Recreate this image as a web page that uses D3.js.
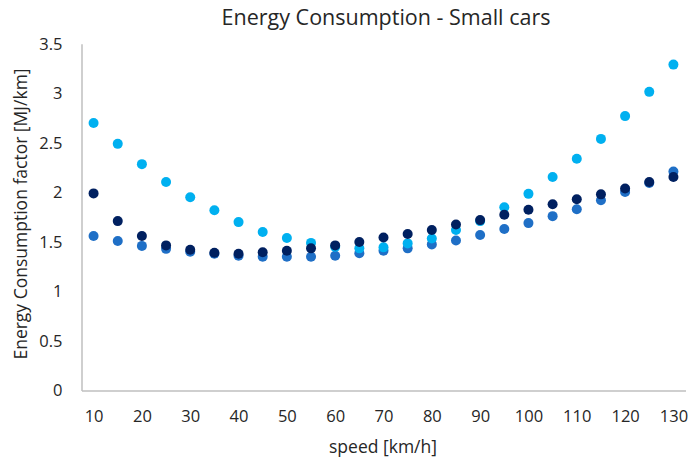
<!DOCTYPE html>
<html>
<head>
<meta charset="utf-8">
<script src="https://cdn.jsdelivr.net/npm/d3@7/dist/d3.min.js"></script>
<style>
  html, body { margin: 0; padding: 0; background: #ffffff; }
  svg text { font-family: "Open Sans", "Noto Sans", sans-serif; fill: #262626; }
</style>
</head>
<body>
<svg id="chart" width="690" height="459"></svg>
<script>
// Speeds (km/h) shared by all three series
const speeds = [10, 15, 20, 25, 30, 35, 40, 45, 50, 55, 60, 65, 70,
                75, 80, 85, 90, 95, 100, 105, 110, 115, 120, 125, 130];

// Energy consumption factor (MJ/km) per series
const seriesMid = [1.56, 1.51, 1.46, 1.43, 1.40, 1.38, 1.36, 1.35, 1.35, 1.35, 1.36, 1.385, 1.41,
                   1.435, 1.475, 1.515, 1.57, 1.63, 1.69, 1.76, 1.83, 1.92, 2.005, 2.095, 2.21];
const seriesCyan = [2.70, 2.49, 2.285, 2.105, 1.95, 1.82, 1.70, 1.60, 1.54, 1.49, 1.45, 1.435, 1.445,
                    1.485, 1.535, 1.62, 1.71, 1.85, 1.985, 2.155, 2.34, 2.54, 2.77, 3.015, 3.29];
const seriesNavy = [1.99, 1.71, 1.56, 1.465, 1.42, 1.39, 1.38, 1.395, 1.41, 1.435, 1.465, 1.50, 1.545,
                    1.58, 1.62, 1.675, 1.72, 1.775, 1.825, 1.88, 1.93, 1.98, 2.04, 2.105, 2.155];

const seriesColors = ["#1f6fc6", "#00b0f0", "#002060"];

const xTicks = [10, 20, 30, 40, 50, 60, 70, 80, 90, 100, 110, 120, 130];
const yTicks = [0, 0.5, 1, 1.5, 2, 2.5, 3, 3.5];

const svg = d3.select("#chart");

const x = d3.scaleLinear().domain([7.5, 132.5]).range([81.5, 685.5]);
const y = d3.scaleLinear().domain([0, 3.5]).range([390.5, 43.8]);

// Title
svg.append("text")
  .attr("x", 386).attr("y", 25)
  .attr("text-anchor", "middle")
  .style("font-size", "21.5px")
  .text("Energy Consumption - Small cars");

// Y axis: line plus labels, no tick marks
const yAxis = svg.append("g")
  .attr("transform", `translate(${x.range()[0]},0)`)
  .call(d3.axisLeft(y).tickValues(yTicks).tickSize(0).tickPadding(19).tickFormat(d3.format("")));
yAxis.select(".domain").attr("stroke", "#bfbfbf").attr("stroke-width", 1.5);
yAxis.selectAll("text").style("font-size", "16.5px").attr("fill", "#262626");

// X axis
const xAxis = svg.append("g")
  .attr("transform", `translate(0,${y(0)})`)
  .call(d3.axisBottom(x).tickValues(xTicks).tickSize(0).tickPadding(20).tickFormat(d3.format("")));
xAxis.select(".domain").attr("stroke", "#bfbfbf").attr("stroke-width", 1.5);
xAxis.selectAll("text").style("font-size", "16.5px").attr("fill", "#262626");

// Axis titles
svg.append("text")
  .attr("x", 383).attr("y", 453)
  .attr("text-anchor", "middle")
  .style("font-size", "17.5px")
  .text("speed [km/h]");

svg.append("text")
  .attr("transform", "translate(27,214) rotate(-90)")
  .attr("text-anchor", "middle")
  .style("font-size", "17.5px")
  .text("Energy Consumption factor [MJ/km]");

// Scatter points, drawn in series order so the navy series sits on top
const allSeries = [seriesMid, seriesCyan, seriesNavy];
allSeries.forEach((vals, i) => {
  svg.append("g")
    .selectAll("circle")
    .data(speeds.map((s, k) => ({ s, v: vals[k] })))
    .join("circle")
    .attr("cx", d => x(d.s))
    .attr("cy", d => y(d.v))
    .attr("r", 5)
    .attr("fill", seriesColors[i]);
});
</script>
</body>
</html>
